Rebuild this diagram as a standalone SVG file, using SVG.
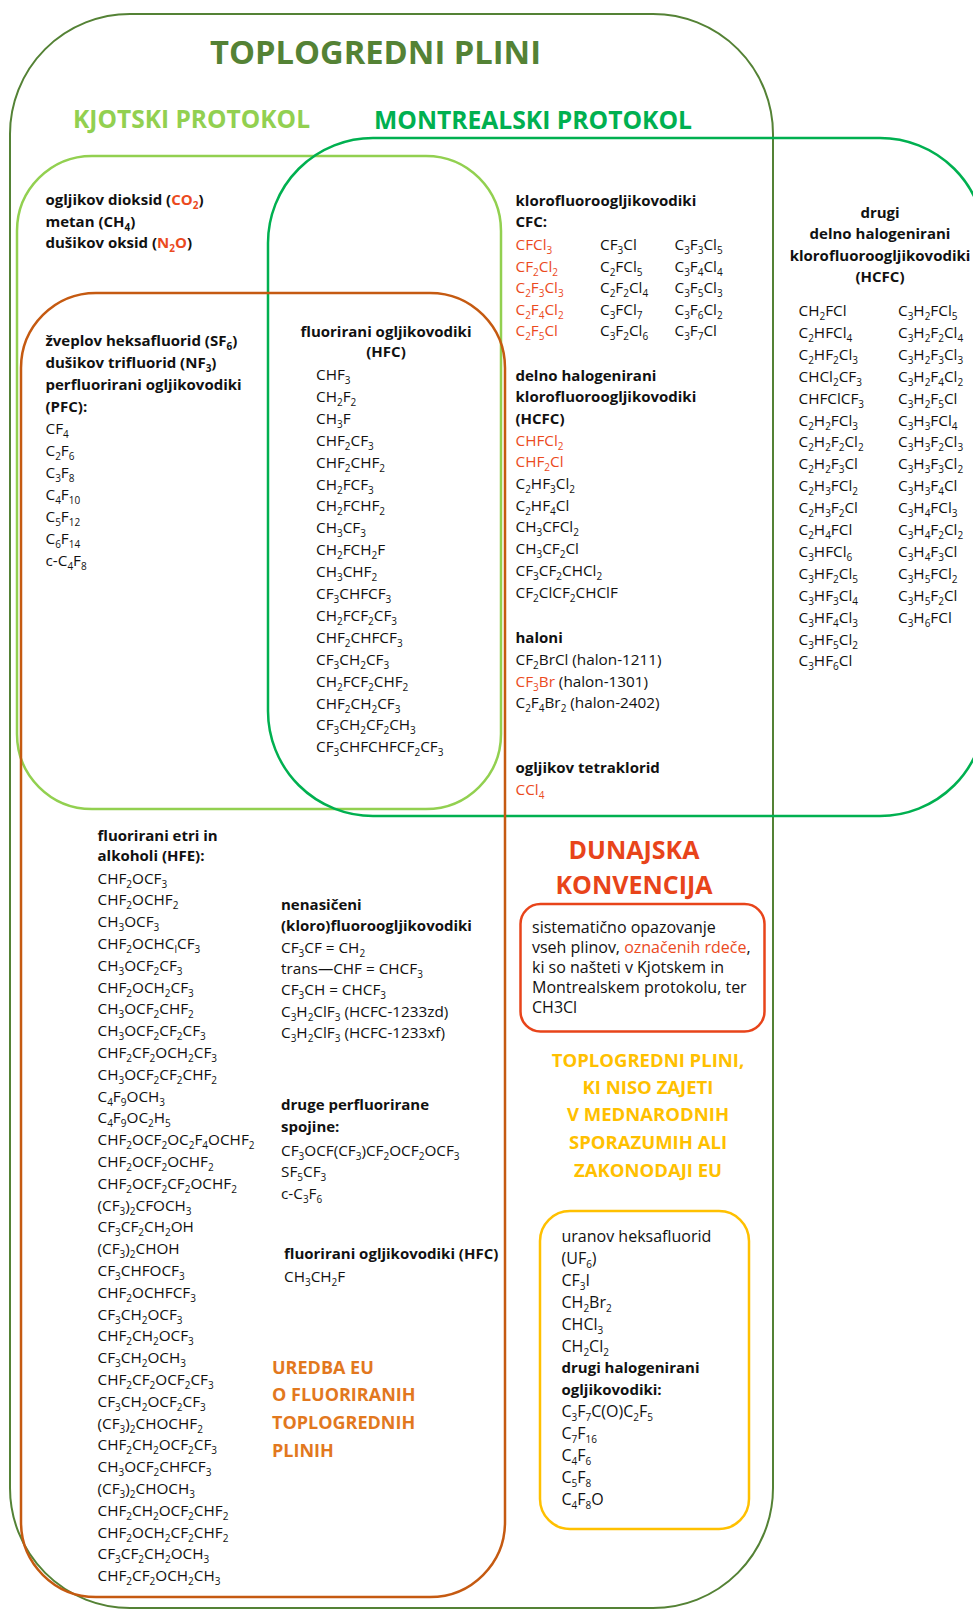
<svg xmlns="http://www.w3.org/2000/svg" width="973" height="1610" viewBox="0 0 973 1610">
<style>
text{font-family:"Open Sans","Liberation Sans",sans-serif;font-size:15.3px;fill:#111}
.b{font-weight:bold;font-size:15px}
.r{fill:#EB4A1E}
.u{font-size:10px;baseline-shift:-3.5px}
.h{font-weight:bold}
.m{text-anchor:middle}
.box{fill:none;stroke-width:2.5}
.p{font-size:16px}
</style>
<rect width="973" height="1610" fill="#fff"/>
<g id="toplogredni-plini">
<rect x="10" y="14" width="763" height="1594" rx="120" fill="none" stroke="#548235" stroke-width="2"/>
<text class="h m" x="375.5" y="63.5" style="font-size:33px;fill:#548235" textLength="331" lengthAdjust="spacingAndGlyphs">TOPLOGREDNI PLINI</text>
</g>
<g id="kjotski-protokol">
<rect class="box" x="17" y="156" width="484" height="653" rx="75" stroke="#92D050"/>
<text class="h" x="73" y="127.5" style="font-size:24.5px;fill:#92D050" textLength="237" lengthAdjust="spacingAndGlyphs">KJOTSKI PROTOKOL</text>
</g>
<g id="montrealski-protokol">
<rect class="box" x="268" y="138" width="717" height="678" rx="105" stroke="#00B050"/>
<text class="h" x="374" y="129" style="font-size:24.5px;fill:#00B050" textLength="318" lengthAdjust="spacingAndGlyphs">MONTREALSKI PROTOKOL</text>
</g>
<g id="uredba-eu">
<rect class="box" x="21" y="293" width="484" height="1304" rx="75" stroke="#C55A11"/>
<g style="font-weight:bold;font-size:18px">
<text x="272" y="1373.6" style="font-weight:bold;font-size:18px;fill:#E2781E">UREDBA EU</text>
<text x="272" y="1401.3" style="font-weight:bold;font-size:18px;fill:#E2781E">O FLUORIRANIH</text>
<text x="272" y="1429" style="font-weight:bold;font-size:18px;fill:#E2781E">TOPLOGREDNIH</text>
<text x="272" y="1456.7" style="font-weight:bold;font-size:18px;fill:#E2781E">PLINIH</text>
</g>
</g>
<g id="kjoto-plini">
<text class="b" x="45.5" y="205">ogljikov dioksid (<tspan class="r">CO<tspan class="u">2</tspan></tspan>)</text>
<text class="b" x="45.5" y="226.7">metan (CH<tspan class="u">4</tspan>)</text>
<text class="b" x="45.5" y="248.3">dušikov oksid (<tspan class="r">N<tspan class="u">2</tspan>O</tspan>)</text>
</g>
<g id="pfc">
<text class="b" x="45.5" y="346">žveplov heksafluorid (SF<tspan class="u">6</tspan>)</text>
<text class="b" x="45.5" y="368">dušikov trifluorid (NF<tspan class="u">3</tspan>)</text>
<text class="b" x="45.5" y="390">perfluorirani ogljikovodiki</text>
<text class="b" x="45.5" y="412">(PFC):</text>
<text x="45.5" y="434">CF<tspan class="u">4</tspan></text>
<text x="45.5" y="456">C<tspan class="u">2</tspan>F<tspan class="u">6</tspan></text>
<text x="45.5" y="478">C<tspan class="u">3</tspan>F<tspan class="u">8</tspan></text>
<text x="45.5" y="500">C<tspan class="u">4</tspan>F<tspan class="u">10</tspan></text>
<text x="45.5" y="522">C<tspan class="u">5</tspan>F<tspan class="u">12</tspan></text>
<text x="45.5" y="544">C<tspan class="u">6</tspan>F<tspan class="u">14</tspan></text>
<text x="45.5" y="566">c-C<tspan class="u">4</tspan>F<tspan class="u">8</tspan></text>
</g>
<g id="hfc">
<text class="b m" x="386" y="336.5">fluorirani ogljikovodiki</text>
<text class="b m" x="386" y="357">(HFC)</text>
<text x="316" y="380">CHF<tspan class="u">3</tspan></text>
<text x="316" y="401.9">CH<tspan class="u">2</tspan>F<tspan class="u">2</tspan></text>
<text x="316" y="423.8">CH<tspan class="u">3</tspan>F</text>
<text x="316" y="445.7">CHF<tspan class="u">2</tspan>CF<tspan class="u">3</tspan></text>
<text x="316" y="467.6">CHF<tspan class="u">2</tspan>CHF<tspan class="u">2</tspan></text>
<text x="316" y="489.5">CH<tspan class="u">2</tspan>FCF<tspan class="u">3</tspan></text>
<text x="316" y="511.4">CH<tspan class="u">2</tspan>FCHF<tspan class="u">2</tspan></text>
<text x="316" y="533.3">CH<tspan class="u">3</tspan>CF<tspan class="u">3</tspan></text>
<text x="316" y="555.2">CH<tspan class="u">2</tspan>FCH<tspan class="u">2</tspan>F</text>
<text x="316" y="577.1">CH<tspan class="u">3</tspan>CHF<tspan class="u">2</tspan></text>
<text x="316" y="599">CF<tspan class="u">3</tspan>CHFCF<tspan class="u">3</tspan></text>
<text x="316" y="620.9">CH<tspan class="u">2</tspan>FCF<tspan class="u">2</tspan>CF<tspan class="u">3</tspan></text>
<text x="316" y="642.8">CHF<tspan class="u">2</tspan>CHFCF<tspan class="u">3</tspan></text>
<text x="316" y="664.7">CF<tspan class="u">3</tspan>CH<tspan class="u">2</tspan>CF<tspan class="u">3</tspan></text>
<text x="316" y="686.6">CH<tspan class="u">2</tspan>FCF<tspan class="u">2</tspan>CHF<tspan class="u">2</tspan></text>
<text x="316" y="708.5">CHF<tspan class="u">2</tspan>CH<tspan class="u">2</tspan>CF<tspan class="u">3</tspan></text>
<text x="316" y="730.4">CF<tspan class="u">3</tspan>CH<tspan class="u">2</tspan>CF<tspan class="u">2</tspan>CH<tspan class="u">3</tspan></text>
<text x="316" y="752.3">CF<tspan class="u">3</tspan>CHFCHFCF<tspan class="u">2</tspan>CF<tspan class="u">3</tspan></text>
</g>
<g id="cfc">
<text class="b" x="515.5" y="205.5">klorofluoroogljikovodiki</text>
<text class="b" x="515.5" y="227">CFC:</text>
<text class="r" x="515.5" y="250">CFCl<tspan class="u">3</tspan></text>
<text class="r" x="515.5" y="271.5">CF<tspan class="u">2</tspan>Cl<tspan class="u">2</tspan></text>
<text class="r" x="515.5" y="293">C<tspan class="u">2</tspan>F<tspan class="u">3</tspan>Cl<tspan class="u">3</tspan></text>
<text class="r" x="515.5" y="314.5">C<tspan class="u">2</tspan>F<tspan class="u">4</tspan>Cl<tspan class="u">2</tspan></text>
<text class="r" x="515.5" y="336">C<tspan class="u">2</tspan>F<tspan class="u">5</tspan>Cl</text>
<text x="600" y="250">CF<tspan class="u">3</tspan>Cl</text>
<text x="600" y="271.5">C<tspan class="u">2</tspan>FCl<tspan class="u">5</tspan></text>
<text x="600" y="293">C<tspan class="u">2</tspan>F<tspan class="u">2</tspan>Cl<tspan class="u">4</tspan></text>
<text x="600" y="314.5">C<tspan class="u">3</tspan>FCl<tspan class="u">7</tspan></text>
<text x="600" y="336">C<tspan class="u">3</tspan>F<tspan class="u">2</tspan>Cl<tspan class="u">6</tspan></text>
<text x="674.5" y="250">C<tspan class="u">3</tspan>F<tspan class="u">3</tspan>Cl<tspan class="u">5</tspan></text>
<text x="674.5" y="271.5">C<tspan class="u">3</tspan>F<tspan class="u">4</tspan>Cl<tspan class="u">4</tspan></text>
<text x="674.5" y="293">C<tspan class="u">3</tspan>F<tspan class="u">5</tspan>Cl<tspan class="u">3</tspan></text>
<text x="674.5" y="314.5">C<tspan class="u">3</tspan>F<tspan class="u">6</tspan>Cl<tspan class="u">2</tspan></text>
<text x="674.5" y="336">C<tspan class="u">3</tspan>F<tspan class="u">7</tspan>Cl</text>
</g>
<g id="hcfc">
<text class="b" x="515.5" y="380.5">delno halogenirani</text>
<text class="b" x="515.5" y="402.2">klorofluoroogljikovodiki</text>
<text class="b" x="515.5" y="423.9">(HCFC)</text>
<text class="r" x="515.5" y="445.6">CHFCl<tspan class="u">2</tspan></text>
<text class="r" x="515.5" y="467.3">CHF<tspan class="u">2</tspan>Cl</text>
<text x="515.5" y="489">C<tspan class="u">2</tspan>HF<tspan class="u">3</tspan>Cl<tspan class="u">2</tspan></text>
<text x="515.5" y="510.7">C<tspan class="u">2</tspan>HF<tspan class="u">4</tspan>Cl</text>
<text x="515.5" y="532.4">CH<tspan class="u">3</tspan>CFCl<tspan class="u">2</tspan></text>
<text x="515.5" y="554.1">CH<tspan class="u">3</tspan>CF<tspan class="u">2</tspan>Cl</text>
<text x="515.5" y="575.8">CF<tspan class="u">3</tspan>CF<tspan class="u">2</tspan>CHCl<tspan class="u">2</tspan></text>
<text x="515.5" y="597.5">CF<tspan class="u">2</tspan>ClCF<tspan class="u">2</tspan>CHClF</text>
</g>
<g id="haloni">
<text class="b" x="515.5" y="643.3">haloni</text>
<text x="515.5" y="665">CF<tspan class="u">2</tspan>BrCl (halon-1211)</text>
<text x="515.5" y="686.5"><tspan class="r">CF<tspan class="u">3</tspan>Br</tspan> (halon-1301)</text>
<text x="515.5" y="708">C<tspan class="u">2</tspan>F<tspan class="u">4</tspan>Br<tspan class="u">2</tspan> (halon-2402)</text>
<text class="b" x="515.5" y="773">ogljikov tetraklorid</text>
<text class="r" x="515.5" y="795">CCl<tspan class="u">4</tspan></text>
</g>
<g id="drugi-hcfc">
<text class="b m" x="880" y="217.5">drugi</text>
<text class="b m" x="880" y="239">delno halogenirani</text>
<text class="b m" x="880" y="260.6">klorofluoroogljikovodiki</text>
<text class="b m" x="880" y="282">(HCFC)</text>
<text x="798.5" y="316">CH<tspan class="u">2</tspan>FCl</text>
<text x="798.5" y="337.9">C<tspan class="u">2</tspan>HFCl<tspan class="u">4</tspan></text>
<text x="798.5" y="359.8">C<tspan class="u">2</tspan>HF<tspan class="u">2</tspan>Cl<tspan class="u">3</tspan></text>
<text x="798.5" y="381.7">CHCl<tspan class="u">2</tspan>CF<tspan class="u">3</tspan></text>
<text x="798.5" y="403.6">CHFClCF<tspan class="u">3</tspan></text>
<text x="798.5" y="425.5">C<tspan class="u">2</tspan>H<tspan class="u">2</tspan>FCl<tspan class="u">3</tspan></text>
<text x="798.5" y="447.4">C<tspan class="u">2</tspan>H<tspan class="u">2</tspan>F<tspan class="u">2</tspan>Cl<tspan class="u">2</tspan></text>
<text x="798.5" y="469.3">C<tspan class="u">2</tspan>H<tspan class="u">2</tspan>F<tspan class="u">3</tspan>Cl</text>
<text x="798.5" y="491.2">C<tspan class="u">2</tspan>H<tspan class="u">3</tspan>FCl<tspan class="u">2</tspan></text>
<text x="798.5" y="513.1">C<tspan class="u">2</tspan>H<tspan class="u">3</tspan>F<tspan class="u">2</tspan>Cl</text>
<text x="798.5" y="535">C<tspan class="u">2</tspan>H<tspan class="u">4</tspan>FCl</text>
<text x="798.5" y="556.9">C<tspan class="u">3</tspan>HFCl<tspan class="u">6</tspan></text>
<text x="798.5" y="578.8">C<tspan class="u">3</tspan>HF<tspan class="u">2</tspan>Cl<tspan class="u">5</tspan></text>
<text x="798.5" y="600.7">C<tspan class="u">3</tspan>HF<tspan class="u">3</tspan>Cl<tspan class="u">4</tspan></text>
<text x="798.5" y="622.6">C<tspan class="u">3</tspan>HF<tspan class="u">4</tspan>Cl<tspan class="u">3</tspan></text>
<text x="798.5" y="644.5">C<tspan class="u">3</tspan>HF<tspan class="u">5</tspan>Cl<tspan class="u">2</tspan></text>
<text x="798.5" y="666.4">C<tspan class="u">3</tspan>HF<tspan class="u">6</tspan>Cl</text>
<text x="898" y="316">C<tspan class="u">3</tspan>H<tspan class="u">2</tspan>FCl<tspan class="u">5</tspan></text>
<text x="898" y="337.9">C<tspan class="u">3</tspan>H<tspan class="u">2</tspan>F<tspan class="u">2</tspan>Cl<tspan class="u">4</tspan></text>
<text x="898" y="359.8">C<tspan class="u">3</tspan>H<tspan class="u">2</tspan>F<tspan class="u">3</tspan>Cl<tspan class="u">3</tspan></text>
<text x="898" y="381.7">C<tspan class="u">3</tspan>H<tspan class="u">2</tspan>F<tspan class="u">4</tspan>Cl<tspan class="u">2</tspan></text>
<text x="898" y="403.6">C<tspan class="u">3</tspan>H<tspan class="u">2</tspan>F<tspan class="u">5</tspan>Cl</text>
<text x="898" y="425.5">C<tspan class="u">3</tspan>H<tspan class="u">3</tspan>FCl<tspan class="u">4</tspan></text>
<text x="898" y="447.4">C<tspan class="u">3</tspan>H<tspan class="u">3</tspan>F<tspan class="u">2</tspan>Cl<tspan class="u">3</tspan></text>
<text x="898" y="469.3">C<tspan class="u">3</tspan>H<tspan class="u">3</tspan>F<tspan class="u">3</tspan>Cl<tspan class="u">2</tspan></text>
<text x="898" y="491.2">C<tspan class="u">3</tspan>H<tspan class="u">3</tspan>F<tspan class="u">4</tspan>Cl</text>
<text x="898" y="513.1">C<tspan class="u">3</tspan>H<tspan class="u">4</tspan>FCl<tspan class="u">3</tspan></text>
<text x="898" y="535">C<tspan class="u">3</tspan>H<tspan class="u">4</tspan>F<tspan class="u">2</tspan>Cl<tspan class="u">2</tspan></text>
<text x="898" y="556.9">C<tspan class="u">3</tspan>H<tspan class="u">4</tspan>F<tspan class="u">3</tspan>Cl</text>
<text x="898" y="578.8">C<tspan class="u">3</tspan>H<tspan class="u">5</tspan>FCl<tspan class="u">2</tspan></text>
<text x="898" y="600.7">C<tspan class="u">3</tspan>H<tspan class="u">5</tspan>F<tspan class="u">2</tspan>Cl</text>
<text x="898" y="622.6">C<tspan class="u">3</tspan>H<tspan class="u">6</tspan>FCl</text>
</g>
<g id="hfe">
<text class="b" x="97.5" y="840.5">fluorirani etri in</text>
<text class="b" x="97.5" y="861">alkoholi (HFE):</text>
<text x="97.5" y="883.6">CHF<tspan class="u">2</tspan>OCF<tspan class="u">3</tspan></text>
<text x="97.5" y="905.4">CHF<tspan class="u">2</tspan>OCHF<tspan class="u">2</tspan></text>
<text x="97.5" y="927.2">CH<tspan class="u">3</tspan>OCF<tspan class="u">3</tspan></text>
<text x="97.5" y="949">CHF<tspan class="u">2</tspan>OCHC<tspan class="u">l</tspan>CF<tspan class="u">3</tspan></text>
<text x="97.5" y="970.8">CH<tspan class="u">3</tspan>OCF<tspan class="u">2</tspan>CF<tspan class="u">3</tspan></text>
<text x="97.5" y="992.6">CHF<tspan class="u">2</tspan>OCH<tspan class="u">2</tspan>CF<tspan class="u">3</tspan></text>
<text x="97.5" y="1014.4">CH<tspan class="u">3</tspan>OCF<tspan class="u">2</tspan>CHF<tspan class="u">2</tspan></text>
<text x="97.5" y="1036.2">CH<tspan class="u">3</tspan>OCF<tspan class="u">2</tspan>CF<tspan class="u">2</tspan>CF<tspan class="u">3</tspan></text>
<text x="97.5" y="1058">CHF<tspan class="u">2</tspan>CF<tspan class="u">2</tspan>OCH<tspan class="u">2</tspan>CF<tspan class="u">3</tspan></text>
<text x="97.5" y="1079.8">CH<tspan class="u">3</tspan>OCF<tspan class="u">2</tspan>CF<tspan class="u">2</tspan>CHF<tspan class="u">2</tspan></text>
<text x="97.5" y="1101.6">C<tspan class="u">4</tspan>F<tspan class="u">9</tspan>OCH<tspan class="u">3</tspan></text>
<text x="97.5" y="1123.4">C<tspan class="u">4</tspan>F<tspan class="u">9</tspan>OC<tspan class="u">2</tspan>H<tspan class="u">5</tspan></text>
<text x="97.5" y="1145.2">CHF<tspan class="u">2</tspan>OCF<tspan class="u">2</tspan>OC<tspan class="u">2</tspan>F<tspan class="u">4</tspan>OCHF<tspan class="u">2</tspan></text>
<text x="97.5" y="1167">CHF<tspan class="u">2</tspan>OCF<tspan class="u">2</tspan>OCHF<tspan class="u">2</tspan></text>
<text x="97.5" y="1188.8">CHF<tspan class="u">2</tspan>OCF<tspan class="u">2</tspan>CF<tspan class="u">2</tspan>OCHF<tspan class="u">2</tspan></text>
<text x="97.5" y="1210.6">(CF<tspan class="u">3</tspan>)<tspan class="u">2</tspan>CFOCH<tspan class="u">3</tspan></text>
<text x="97.5" y="1232.4">CF<tspan class="u">3</tspan>CF<tspan class="u">2</tspan>CH<tspan class="u">2</tspan>OH</text>
<text x="97.5" y="1254.2">(CF<tspan class="u">3</tspan>)<tspan class="u">2</tspan>CHOH</text>
<text x="97.5" y="1276">CF<tspan class="u">3</tspan>CHFOCF<tspan class="u">3</tspan></text>
<text x="97.5" y="1297.8">CHF<tspan class="u">2</tspan>OCHFCF<tspan class="u">3</tspan></text>
<text x="97.5" y="1319.6">CF<tspan class="u">3</tspan>CH<tspan class="u">2</tspan>OCF<tspan class="u">3</tspan></text>
<text x="97.5" y="1341.4">CHF<tspan class="u">2</tspan>CH<tspan class="u">2</tspan>OCF<tspan class="u">3</tspan></text>
<text x="97.5" y="1363.2">CF<tspan class="u">3</tspan>CH<tspan class="u">2</tspan>OCH<tspan class="u">3</tspan></text>
<text x="97.5" y="1385">CHF<tspan class="u">2</tspan>CF<tspan class="u">2</tspan>OCF<tspan class="u">2</tspan>CF<tspan class="u">3</tspan></text>
<text x="97.5" y="1406.8">CF<tspan class="u">3</tspan>CH<tspan class="u">2</tspan>OCF<tspan class="u">2</tspan>CF<tspan class="u">3</tspan></text>
<text x="97.5" y="1428.6">(CF<tspan class="u">3</tspan>)<tspan class="u">2</tspan>CHOCHF<tspan class="u">2</tspan></text>
<text x="97.5" y="1450.4">CHF<tspan class="u">2</tspan>CH<tspan class="u">2</tspan>OCF<tspan class="u">2</tspan>CF<tspan class="u">3</tspan></text>
<text x="97.5" y="1472.2">CH<tspan class="u">3</tspan>OCF<tspan class="u">2</tspan>CHFCF<tspan class="u">3</tspan></text>
<text x="97.5" y="1494">(CF<tspan class="u">3</tspan>)<tspan class="u">2</tspan>CHOCH<tspan class="u">3</tspan></text>
<text x="97.5" y="1515.8">CHF<tspan class="u">2</tspan>CH<tspan class="u">2</tspan>OCF<tspan class="u">2</tspan>CHF<tspan class="u">2</tspan></text>
<text x="97.5" y="1537.6">CHF<tspan class="u">2</tspan>OCH<tspan class="u">2</tspan>CF<tspan class="u">2</tspan>CHF<tspan class="u">2</tspan></text>
<text x="97.5" y="1559.4">CF<tspan class="u">3</tspan>CF<tspan class="u">2</tspan>CH<tspan class="u">2</tspan>OCH<tspan class="u">3</tspan></text>
<text x="97.5" y="1581.2">CHF<tspan class="u">2</tspan>CF<tspan class="u">2</tspan>OCH<tspan class="u">2</tspan>CH<tspan class="u">3</tspan></text>
</g>
<g id="nenasiceni">
<text class="b" x="281" y="910">nenasičeni</text>
<text class="b" x="281" y="931.3">(kloro)fluoroogljikovodiki</text>
<text x="281" y="952.6">CF<tspan class="u">3</tspan>CF = CH<tspan class="u">2</tspan></text>
<text x="281" y="973.9">trans—CHF = CHCF<tspan class="u">3</tspan></text>
<text x="281" y="995.2">CF<tspan class="u">3</tspan>CH = CHCF<tspan class="u">3</tspan></text>
<text x="281" y="1016.5">C<tspan class="u">3</tspan>H<tspan class="u">2</tspan>ClF<tspan class="u">3</tspan> (HCFC-1233zd)</text>
<text x="281" y="1037.8">C<tspan class="u">3</tspan>H<tspan class="u">2</tspan>ClF<tspan class="u">3</tspan> (HCFC-1233xf)</text>
</g>
<g id="druge-perfluorirane">
<text class="b" x="281" y="1110.4">druge perfluorirane</text>
<text class="b" x="281" y="1132">spojine:</text>
<text x="281" y="1155.6">CF<tspan class="u">3</tspan>OCF(CF<tspan class="u">3</tspan>)CF<tspan class="u">2</tspan>OCF<tspan class="u">2</tspan>OCF<tspan class="u">3</tspan></text>
<text x="281" y="1177.1">SF<tspan class="u">5</tspan>CF<tspan class="u">3</tspan></text>
<text x="281" y="1198.7">c-C<tspan class="u">3</tspan>F<tspan class="u">6</tspan></text>
</g>
<g id="hfc-2">
<text class="b" x="284" y="1259.3">fluorirani ogljikovodiki (HFC)</text>
<text x="284" y="1281.8">CH<tspan class="u">3</tspan>CH<tspan class="u">2</tspan>F</text>
</g>
<g id="dunajska-konvencija">
<text class="h m" x="634" y="859" style="font-size:25px;fill:#E8441A">DUNAJSKA</text>
<text class="h m" x="634" y="893.8" style="font-size:25px;fill:#E8441A">KONVENCIJA</text>
<rect class="box" x="520.5" y="904" width="244" height="127.5" rx="20" stroke="#E8441A"/>
<text class="p" x="532" y="933">sistematično opazovanje</text>
<text class="p" x="532" y="953">vseh plinov, <tspan class="r">označenih rdeče</tspan>,</text>
<text class="p" x="532" y="973">ki so našteti v Kjotskem in</text>
<text class="p" x="532" y="993">Montrealskem protokolu, ter</text>
<text class="p" x="532" y="1013">CH3Cl</text>
</g>
<g id="ostali-plini">
<text class="h m" x="648" y="1067" style="font-size:18.5px;fill:#FFC000">TOPLOGREDNI PLINI,</text>
<text class="h m" x="648" y="1093.6" style="font-size:18.5px;fill:#FFC000">KI NISO ZAJETI</text>
<text class="h m" x="648" y="1121.3" style="font-size:18.5px;fill:#FFC000">V MEDNARODNIH</text>
<text class="h m" x="648" y="1149" style="font-size:18.5px;fill:#FFC000">SPORAZUMIH ALI</text>
<text class="h m" x="648" y="1176.7" style="font-size:18.5px;fill:#FFC000">ZAKONODAJI EU</text>
<rect class="box" x="540" y="1211" width="209" height="318" rx="30" stroke="#FFC000"/>
<text class="p" x="561.5" y="1242">uranov heksafluorid</text>
<text class="p" x="561.5" y="1263.9">(UF<tspan class="u">6</tspan>)</text>
<text class="p" x="561.5" y="1285.8">CF<tspan class="u">3</tspan>I</text>
<text class="p" x="561.5" y="1307.7">CH<tspan class="u">2</tspan>Br<tspan class="u">2</tspan></text>
<text class="p" x="561.5" y="1329.6">CHCl<tspan class="u">3</tspan></text>
<text class="p" x="561.5" y="1351.5">CH<tspan class="u">2</tspan>Cl<tspan class="u">2</tspan></text>
<text class="b" x="561.5" y="1373.4">drugi halogenirani</text>
<text class="b" x="561.5" y="1395.3">ogljikovodiki:</text>
<text class="p" x="561.5" y="1417.2">C<tspan class="u">3</tspan>F<tspan class="u">7</tspan>C(O)C<tspan class="u">2</tspan>F<tspan class="u">5</tspan></text>
<text class="p" x="561.5" y="1439.1">C<tspan class="u">7</tspan>F<tspan class="u">16</tspan></text>
<text class="p" x="561.5" y="1461">C<tspan class="u">4</tspan>F<tspan class="u">6</tspan></text>
<text class="p" x="561.5" y="1482.9">C<tspan class="u">5</tspan>F<tspan class="u">8</tspan></text>
<text class="p" x="561.5" y="1504.8">C<tspan class="u">4</tspan>F<tspan class="u">8</tspan>O</text>
</g>
</svg>
